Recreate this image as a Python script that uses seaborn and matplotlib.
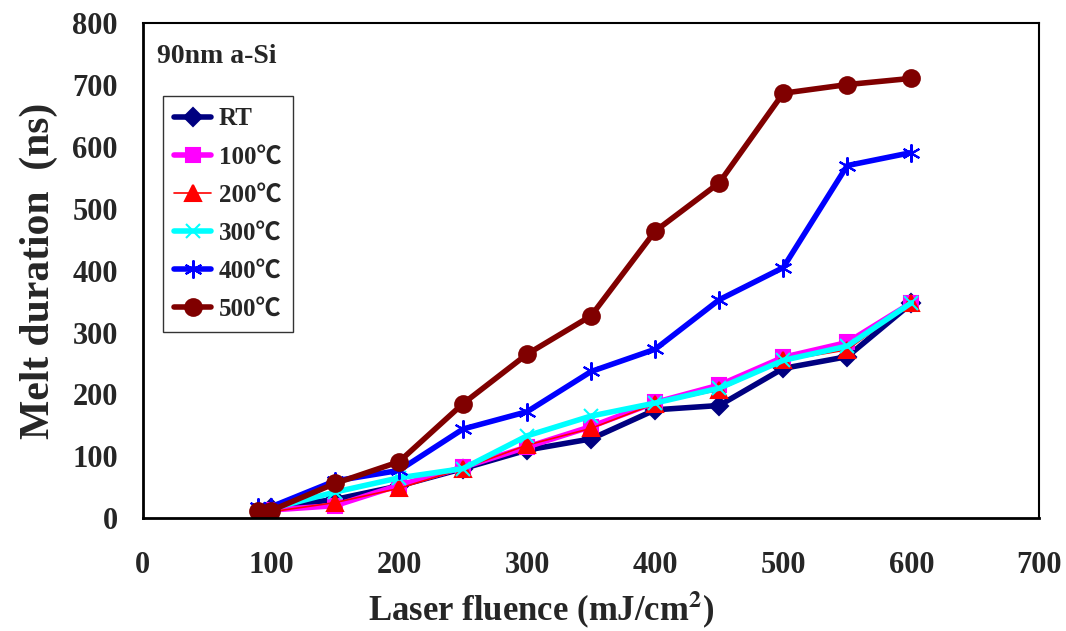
import numpy as np
import pandas as pd
import matplotlib
matplotlib.use('Agg')
import matplotlib.pyplot as plt
import seaborn as sns

sns.set_theme(style='white')
plt.rcParams['font.family'] = ['Liberation Serif', 'Noto Sans CJK SC', 'DejaVu Sans']
plt.rcParams['font.weight'] = 'bold'
plt.rcParams['mathtext.fontset'] = 'stix'

# data
fluence_low = [90, 100, 150, 200, 250, 300, 350, 400, 450, 500, 550, 600]
fluence = [100, 150, 200, 250, 300, 350, 400, 450, 500, 550, 600]

rt = [17, 30, 52, 80, 110, 128, 175, 182, 242, 261, 347]
t100 = [13, 20, 53, 82, 115, 148, 187, 215, 260, 284, 348]
t200 = [10, 25, 48, 80, 118, 145, 185, 207, 255, 272, 348]
t300 = [15, 42, 65, 80, 133, 165, 186, 210, 255, 278, 348]
t400 = [18, 18, 60, 77, 144, 172, 237, 273, 353, 405, 570, 591]
t500 = [12, 12, 56, 91, 185, 265, 327, 464, 542, 687, 701, 711]

series = [
    ('RT', fluence, rt, '#000080', 'D', 4, 9),
    ('100℃', fluence, t100, '#FF00FF', 's', 4, 10),
    ('200℃', fluence, t200, '#FF0000', '^', 1.2, 11),
    ('300℃', fluence, t300, '#00FFFF', 'x', 4, 10),
    ('400℃', fluence_low, t400, '#0000FF', (6, 2, 0), 4, 13),
    ('500℃', fluence_low, t500, '#800000', 'o', 4, 12),
]

fig, ax = plt.subplots(figsize=(10.66, 6.31), dpi=100)
fig.subplots_adjust(left=0.134, right=0.975, top=0.963, bottom=0.179)

for name, xs, ys, color, marker, lw, ms in series:
    df = pd.DataFrame({'x': xs, 'y': ys})
    sns.lineplot(data=df, x='x', y='y', ax=ax, color=color, linewidth=lw,
                 marker=marker, markersize=ms, markeredgecolor=color,
                 markeredgewidth=1.5, label=name)

ax.set_xlim(0, 700)
ax.set_ylim(0, 800)
ax.set_xticks(range(0, 701, 100))
ax.set_yticks(range(0, 801, 100))
ax.tick_params(axis='x', direction='in', length=9, width=1.2, color='black',
               labelsize=22, pad=24)
ax.tick_params(axis='y', direction='in', length=9, width=1.2, color='#808080',
               labelsize=22, pad=18)
for lab in ax.get_xticklabels() + ax.get_yticklabels():
    lab.set_fontweight('bold')

for sp in ax.spines.values():
    sp.set_color('black')
    sp.set_linewidth(1.5)
ax.spines['left'].set_linewidth(2)
ax.spines['bottom'].set_linewidth(2)

ax.set_xlabel('Laser fluence (mJ/cm$^{\\mathbf{2}}$)', fontsize=25, fontweight='bold')
ax.xaxis.set_label_coords(0.445, -0.142)
ax.set_ylabel('Melt duration  (ns)', fontsize=30, fontweight='bold', labelpad=10)

ax.text(0.016, 0.932, '90nm a-Si', transform=ax.transAxes, fontsize=20,
        fontweight='bold', va='center', ha='left')

leg = ax.legend(loc='upper left', bbox_to_anchor=(0.022, 0.853), frameon=True,
                fancybox=False, edgecolor='black', fontsize=18, handlelength=1.5,
                labelspacing=0.6, borderpad=0.45, handletextpad=0.3,
                borderaxespad=0)
leg.get_frame().set_linewidth(1)
for t in leg.get_texts():
    t.set_fontweight('bold')

fig.savefig('out.png', dpi=100, facecolor='white')
